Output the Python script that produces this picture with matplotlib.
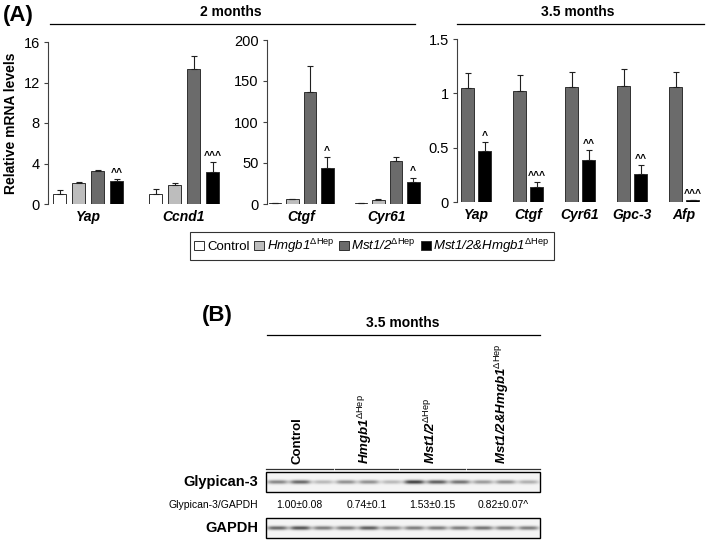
import numpy as np
import matplotlib
matplotlib.use("Agg")
import matplotlib.pyplot as plt
from matplotlib.patches import Patch, Rectangle

plt.rcParams['font.family'] = ['Liberation Sans', 'DejaVu Sans']
plt.rcParams['mathtext.fontset'] = 'custom'
plt.rcParams['mathtext.rm'] = 'Liberation Sans'
plt.rcParams['mathtext.it'] = 'Liberation Sans:italic'
plt.rcParams['mathtext.bf'] = 'Liberation Sans:bold'

# ---- data (A): relative mRNA levels ----
genes_2m_a = ['Yap', 'Ccnd1']
ctrl_2m_a = [1.0, 1.0]
ctrl_2m_a_err = [0.4, 0.5]
hmgb_2m_a = [2.05, 1.9]
hmgb_2m_a_err = [0.1, 0.2]
mst_2m_a = [3.3, 13.3]
mst_2m_a_err = [0.05, 1.3]
dko_2m_a = [2.25, 3.2]
dko_2m_a_err = [0.2, 0.9]
sig_2m_a = ['^^', '^^^']

genes_2m_b = ['Ctgf', 'Cyr61']
ctrl_2m_b = [1.0, 1.0]
ctrl_2m_b_err = [0.3, 0.3]
hmgb_2m_b = [6.0, 5.0]
hmgb_2m_b_err = [0.5, 1.0]
mst_2m_b = [137, 53]
mst_2m_b_err = [31, 4]
dko_2m_b = [44, 27]
dko_2m_b_err = [13, 5]
sig_2m_b = ['^', '^']

genes_35m = ['Yap', 'Ctgf', 'Cyr61', 'Gpc-3', 'Afp']
mst_35m = [1.05, 1.02, 1.06, 1.07, 1.06]
mst_35m_err = [0.14, 0.15, 0.14, 0.15, 0.14]
dko_35m = [0.47, 0.14, 0.39, 0.26, 0.02]
dko_35m_err = [0.08, 0.045, 0.09, 0.08, 0.0]
sig_35m = ['^', '^^^', '^^', '^^', '^^^']

# ---- data (B): western blot ----
sup = r'$^{\Delta\mathrm{Hep}}$'
group_names = ['Control', 'Hmgb1' + sup, 'Mst1/2' + sup, 'Mst1/2&Hmgb1' + sup]
group_italic = [False, True, True, True]
ratio_text = ['1.00±0.08', '0.74±0.1', '1.53±0.15', '0.82±0.07^']
gpc3_bands = [0.55, 0.7, 0.3, 0.5, 0.5, 0.3, 0.9, 0.75, 0.65, 0.45, 0.5, 0.35]
gapdh_bands = [0.7, 0.8, 0.6, 0.6, 0.75, 0.55, 0.6, 0.6, 0.6, 0.65, 0.6, 0.6]

colors = ['white', '#bdbdbd', '#6b6b6b', 'black']

W, H = 709, 544
fig = plt.figure(figsize=(W / 100, H / 100), dpi=100)


def rect(l, t, r, b):
    return [l / W, 1 - b / H, (r - l) / W, (b - t) / H]


ov = fig.add_axes([0, 0, 1, 1])
ov.axis('off')


def bars(ax, genes, series, errs, cols, width, pitch, sig, ymax, ticks, ticklabels):
    x = np.arange(len(genes))
    n = len(series)
    for i, (v, e, c) in enumerate(zip(series, errs, cols)):
        pos = x + (i - (n - 1) / 2) * pitch
        ax.bar(pos, v, width, color=c, edgecolor='#303030', linewidth=0.7, zorder=2)
        ax.errorbar(pos, v, yerr=[np.zeros(len(v)), e], fmt='none', ecolor='#202020',
                    elinewidth=0.8, capsize=2.5, capthick=0.8, zorder=3)
        if i == n - 1:
            for p, vv, ee, s in zip(pos, v, e, sig):
                ax.text(p, vv + ee + ymax * 0.008, s, ha='center', va='bottom',
                        fontsize=7.5, fontweight='bold')
    ax.set_ylim(0, ymax)
    ax.set_yticks(ticks)
    ax.set_yticklabels(ticklabels)
    ax.set_xticks(x)
    ax.set_xticklabels(genes, fontstyle='italic', fontweight='bold', fontsize=10)
    ax.tick_params(axis='x', length=0, pad=4)
    ax.tick_params(axis='y', length=3, width=0.8, labelsize=10.5, color='#404040', pad=3)
    for s in ['top', 'right', 'bottom']:
        ax.spines[s].set_visible(False)
    ax.spines['left'].set_linewidth(0.8)
    ax.spines['left'].set_color('#404040')
    ax.patch.set_alpha(0)


ax1 = fig.add_axes(rect(48, 42, 232, 204))
bars(ax1, genes_2m_a, [ctrl_2m_a, hmgb_2m_a, mst_2m_a, dko_2m_a],
     [ctrl_2m_a_err, hmgb_2m_a_err, mst_2m_a_err, dko_2m_a_err], colors,
     13 / 96, 19 / 96, sig_2m_a, 16, [0, 4, 8, 12, 16], ['0', '4', '8', '12', '16'])
ax1.set_xlim((48 - 88) / 96, (232 - 88) / 96)
ax1.set_ylabel('Relative mRNA levels', fontweight='bold', fontsize=10, labelpad=4)

ax2 = fig.add_axes(rect(267, 40, 430, 204))
bars(ax2, genes_2m_b, [ctrl_2m_b, hmgb_2m_b, mst_2m_b, dko_2m_b],
     [ctrl_2m_b_err, hmgb_2m_b_err, mst_2m_b_err, dko_2m_b_err], colors,
     12.5 / 86, 17.5 / 86, sig_2m_b, 200, [0, 50, 100, 150, 200],
     ['0', '50', '100', '150', '200'])
ax2.set_xlim((267 - 301) / 86, (430 - 301) / 86)

ax3 = fig.add_axes(rect(457, 39, 705, 202))
bars(ax3, genes_35m, [mst_35m, dko_35m], [mst_35m_err, dko_35m_err], colors[2:],
     13 / 52, 17 / 52, sig_35m, 1.5, [0, 0.5, 1, 1.5], ['0', '0.5', '1', '1.5'])
ax3.set_xlim((457 - 476) / 52, (705 - 476) / 52)

# panel headers
ov.text(3, 15, '(A)', fontsize=16, fontweight='bold', ha='left', va='center')
ov.text(231, 12, '2 months', fontsize=10, fontweight='bold', ha='center', va='center')
ov.plot([50, 415], [24, 24], color='black', lw=0.9)
ov.text(578, 12, '3.5 months', fontsize=10, fontweight='bold', ha='center', va='center')
ov.plot([457, 704], [24, 24], color='black', lw=0.9)

handles = [Patch(facecolor=c, edgecolor='#303030', linewidth=0.7) for c in colors]
leg = fig.legend(handles, group_names, loc='center',
                 bbox_to_anchor=((191 + 553) / 2 / W, 1 - 246 / H), ncol=4,
                 frameon=True, fancybox=False, edgecolor='black', fontsize=9.5,
                 handlelength=0.75, handleheight=0.75, handletextpad=0.2,
                 columnspacing=0.35, borderpad=0.35, borderaxespad=0)
leg.get_frame().set_linewidth(0.8)
for t, it in zip(leg.get_texts(), group_italic):
    if it:
        t.set_fontstyle('italic')

# panel (B)
ov.text(202, 315, '(B)', fontsize=16, fontweight='bold', ha='left', va='center')
ov.text(403, 323, '3.5 months', fontsize=10, fontweight='bold', ha='center', va='center')
ov.plot([267, 540], [335, 335], color='black', lw=0.9)

segs = [(266, 333), (335, 398), (400, 465), (467, 540)]
for (a, b), lab, it in zip(segs, group_names, group_italic):
    ov.plot([a, b], [469, 469], color='#303030', lw=0.9)
    ov.text((a + b) / 2 - 2, 464, lab, rotation=90, ha='center', va='bottom', fontsize=9.5,
            fontweight='bold', fontstyle='italic' if it else 'normal')


def blot(darkness, left, right, top, bottom, band_h):
    w = int(right - left) * 3
    h = int(bottom - top) * 3
    xs = np.linspace(0, right - left, w)
    ys = np.linspace(0, bottom - top, h)
    lw = (right - left) / len(darkness)
    img = np.zeros((h, w))
    for i, d in enumerate(darkness):
        cx = (i + 0.5) * lw
        px = np.exp(-np.abs((xs - cx) / (lw * 0.45)) ** 4)
        py = np.exp(-((ys - (bottom - top) / 2) / band_h) ** 2)
        img += d * np.outer(py, px)
    ov.imshow(0.96 - 0.8 * np.clip(img, 0, 1), cmap='gray', vmin=0, vmax=1,
              extent=(left, right, bottom, top), aspect='auto', interpolation='bilinear')
    ov.add_patch(Rectangle((left, top), right - left, bottom - top, fill=False,
                           ec='black', lw=1.0))


blot(gpc3_bands, 266, 540, 472, 492, 2.0)
blot(gapdh_bands, 266, 540, 518, 538, 2.0)

ov.text(258, 482, 'Glypican-3', fontsize=10.5, fontweight='bold', ha='right', va='center')
ov.text(258, 505, 'Glypican-3/GAPDH', fontsize=7.5, ha='right', va='center')
ov.text(258, 528, 'GAPDH', fontsize=10.5, fontweight='bold', ha='right', va='center')
for (a, b), t in zip(segs, ratio_text):
    ov.text((a + b) / 2, 505, t, fontsize=7.5, ha='center', va='center')

ov.set_xlim(0, W)
ov.set_ylim(H, 0)

fig.savefig('out.png', dpi=100)
